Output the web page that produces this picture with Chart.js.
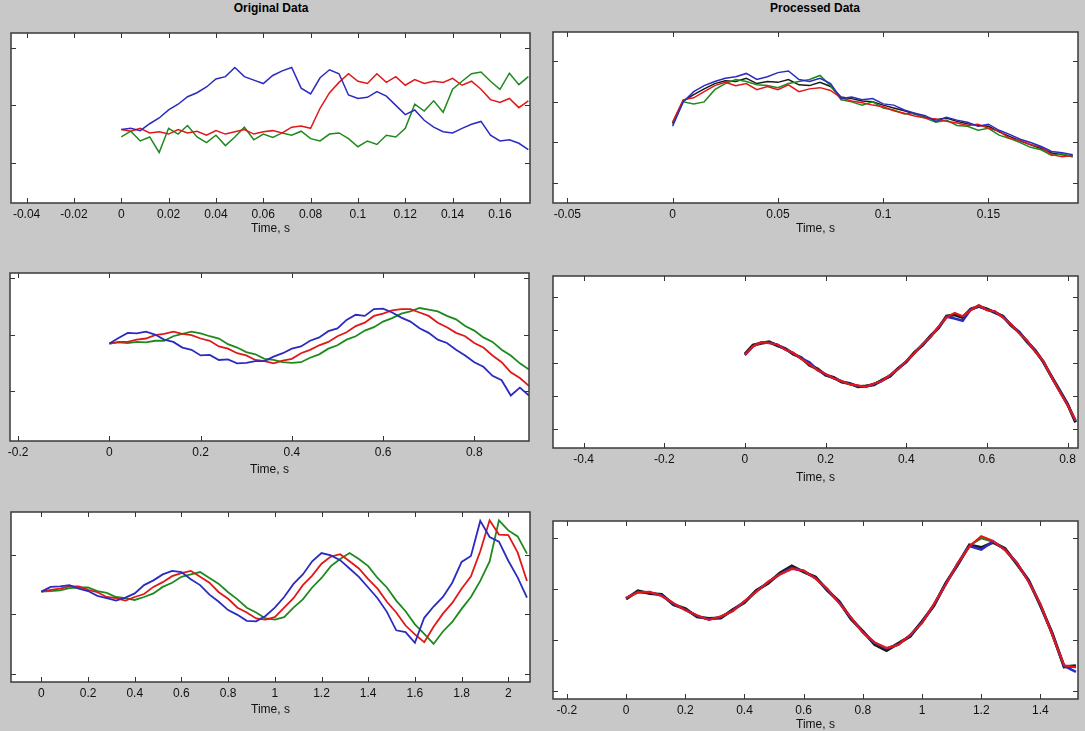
<!DOCTYPE html>
<html>
<head>
<meta charset="utf-8">
<script src="https://cdn.jsdelivr.net/npm/chart.js@4.4.1/dist/chart.umd.min.js"></script>
<style>
  body { margin: 0; width: 1085px; height: 731px; overflow: hidden; position: relative;
         background: #c8c8c8; font-family: "Liberation Sans", Arial, sans-serif; }
  canvas { position: absolute; }
  .head { position: absolute; top: 1px; font-size: 12px; font-weight: bold; color: #000;
          transform: translateX(-50%); white-space: nowrap; }
</style>
</head>
<body>
<div class="head" style="left:271px">Original Data</div>
<div class="head" style="left:815px">Processed Data</div>
<canvas id="c1"></canvas>
<canvas id="c2"></canvas>
<canvas id="c3"></canvas>
<canvas id="c4"></canvas>
<canvas id="c5"></canvas>
<canvas id="c6"></canvas>
<script>
// ---- data (y in units of the y tick spacing) ----

// top row, original
const t1 = [0,0.004,0.008,0.012,0.016,0.02,0.024,0.028,0.032,0.036,0.04,0.044,0.048,0.052,0.056,0.06,0.064,0.068,0.072,0.076,0.08,0.084,0.088,0.092,0.096,0.1,0.104,0.108,0.112,0.116,0.12,0.124,0.128,0.132,0.136,0.14,0.144,0.148,0.152,0.156,0.16,0.164,0.168,0.172];
const p1Blue = [-0.42,-0.40,-0.44,-0.32,-0.22,-0.08,0.02,0.15,0.22,0.32,0.46,0.50,0.66,0.50,0.44,0.38,0.52,0.60,0.66,0.30,0.20,0.48,0.62,0.55,0.18,0.12,0.14,0.24,0.16,0.00,-0.16,-0.08,-0.26,-0.38,-0.46,-0.48,-0.40,-0.33,-0.28,-0.52,-0.62,-0.60,-0.66,-0.77];
const p1Red = [-0.42,-0.45,-0.40,-0.48,-0.46,-0.50,-0.42,-0.48,-0.45,-0.52,-0.44,-0.50,-0.46,-0.42,-0.50,-0.46,-0.44,-0.48,-0.38,-0.36,-0.40,-0.05,0.22,0.40,0.55,0.42,0.38,0.55,0.40,0.50,0.35,0.45,0.38,0.42,0.40,0.47,0.35,0.42,0.28,0.10,0.05,0.12,-0.04,0.08];
const p1Green = [-0.55,-0.45,-0.62,-0.55,-0.82,-0.40,-0.50,-0.35,-0.55,-0.65,-0.52,-0.70,-0.55,-0.38,-0.60,-0.50,-0.56,-0.48,-0.52,-0.45,-0.58,-0.62,-0.50,-0.48,-0.58,-0.72,-0.62,-0.68,-0.52,-0.55,-0.40,0.02,-0.10,0.08,-0.12,0.28,0.42,0.55,0.58,0.42,0.28,0.56,0.36,0.50];

// top row, processed
const t2 = [0,0.005,0.01,0.015,0.02,0.025,0.03,0.035,0.04,0.045,0.05,0.055,0.06,0.065,0.07,0.075,0.08,0.085,0.09,0.095,0.1,0.105,0.11,0.115,0.12,0.125,0.13,0.135,0.14,0.145,0.15,0.155,0.16,0.165,0.17,0.175,0.18,0.185,0.19];
const p2Blue = [0.40,1.00,1.25,1.40,1.50,1.58,1.62,1.70,1.55,1.62,1.72,1.76,1.55,1.50,1.58,1.45,1.08,1.12,1.05,1.08,0.95,0.92,0.80,0.72,0.66,0.52,0.62,0.55,0.50,0.40,0.45,0.30,0.20,0.08,0.00,-0.10,-0.22,-0.25,-0.30];
const p2Green = [0.45,1.00,0.95,1.00,1.30,1.45,1.55,1.50,1.42,1.40,1.35,1.45,1.50,1.55,1.65,1.40,1.05,1.00,0.92,1.00,0.85,0.80,0.70,0.72,0.60,0.50,0.55,0.42,0.40,0.30,0.35,0.18,0.10,0.00,-0.12,-0.18,-0.32,-0.28,-0.36];
const p2Red = [0.50,1.05,1.10,1.25,1.40,1.48,1.40,1.45,1.30,1.38,1.30,1.42,1.25,1.32,1.35,1.28,1.10,1.02,0.98,0.92,0.88,0.78,0.72,0.65,0.60,0.58,0.52,0.48,0.42,0.45,0.35,0.28,0.10,0.05,-0.05,-0.12,-0.30,-0.35,-0.32];
const p2Black = [0.48,1.02,1.18,1.32,1.45,1.52,1.50,1.58,1.45,1.50,1.48,1.55,1.42,1.40,1.48,1.38,1.12,1.08,1.02,1.00,0.92,0.85,0.78,0.70,0.62,0.56,0.60,0.52,0.46,0.42,0.40,0.26,0.15,0.04,-0.06,-0.15,-0.26,-0.30,-0.33];

// middle row, original
const t3 = [0,0.02,0.04,0.06,0.08,0.1,0.12,0.14,0.16,0.18,0.2,0.22,0.24,0.26,0.28,0.3,0.32,0.34,0.36,0.38,0.4,0.42,0.44,0.46,0.48,0.5,0.52,0.54,0.56,0.58,0.6,0.62,0.64,0.66,0.68,0.7,0.72,0.74,0.76,0.78,0.8,0.82,0.84,0.86,0.88,0.9,0.92];
const p3Blue = [-0.16,-0.06,0.03,0.02,0.05,0.00,-0.09,-0.13,-0.23,-0.27,-0.37,-0.36,-0.45,-0.44,-0.51,-0.50,-0.47,-0.47,-0.39,-0.33,-0.25,-0.21,-0.11,-0.05,0.06,0.11,0.26,0.35,0.33,0.45,0.46,0.39,0.30,0.23,0.11,0.03,-0.09,-0.15,-0.27,-0.37,-0.49,-0.57,-0.73,-0.81,-1.08,-0.94,-1.08];
const p3Red = [-0.16,-0.13,-0.13,-0.09,-0.07,-0.01,0.01,0.05,0.01,-0.01,-0.07,-0.11,-0.21,-0.25,-0.33,-0.37,-0.45,-0.47,-0.51,-0.46,-0.43,-0.33,-0.27,-0.19,-0.13,-0.03,0.04,0.15,0.21,0.33,0.37,0.43,0.45,0.45,0.39,0.33,0.21,0.13,0.03,-0.03,-0.15,-0.23,-0.37,-0.49,-0.67,-0.77,-0.91];
const p3Green = [-0.16,-0.14,-0.15,-0.13,-0.14,-0.11,-0.11,-0.03,0.01,0.05,0.02,-0.03,-0.07,-0.17,-0.23,-0.31,-0.35,-0.43,-0.45,-0.49,-0.50,-0.49,-0.41,-0.35,-0.25,-0.19,-0.09,-0.03,0.07,0.13,0.23,0.29,0.37,0.41,0.47,0.44,0.41,0.33,0.27,0.15,0.07,-0.05,-0.13,-0.27,-0.37,-0.51,-0.62];

// middle row, processed
const t4 = [0,0.02,0.04,0.06,0.08,0.1,0.12,0.14,0.16,0.18,0.2,0.22,0.24,0.26,0.28,0.3,0.32,0.34,0.36,0.38,0.4,0.42,0.44,0.46,0.48,0.5,0.52,0.54,0.56,0.58,0.6,0.62,0.64,0.66,0.68,0.7,0.72,0.74,0.76,0.78,0.8,0.82];
const p4Red = [0.25,0.50,0.63,0.60,0.57,0.40,0.31,0.12,-0.04,-0.22,-0.33,-0.47,-0.55,-0.65,-0.68,-0.73,-0.62,-0.55,-0.36,-0.19,0.06,0.28,0.57,0.78,1.10,1.38,1.52,1.42,1.60,1.76,1.60,1.57,1.38,1.18,0.90,0.68,0.34,0.06,-0.42,-0.86,-1.28,-1.74];
const p4Black = [0.27,0.54,0.60,0.64,0.53,0.44,0.27,0.16,-0.07,-0.18,-0.37,-0.44,-0.58,-0.62,-0.72,-0.70,-0.66,-0.52,-0.40,-0.16,0.03,0.32,0.53,0.82,1.06,1.42,1.46,1.38,1.64,1.72,1.64,1.53,1.42,1.14,0.94,0.64,0.38,0.03,-0.40,-0.82,-1.24,-1.80];
const p4Blue = [0.24,0.51,0.62,0.62,0.55,0.42,0.29,0.14,0.02,-0.21,-0.35,-0.46,-0.56,-0.64,-0.70,-0.71,-0.64,-0.54,-0.38,-0.18,0.05,0.30,0.55,0.80,1.08,1.40,1.35,1.28,1.62,1.72,1.62,1.55,1.40,1.16,0.92,0.66,0.36,0.05,-0.41,-0.84,-1.26,-1.76];
const p4Green = [0.25,0.52,0.61,0.63,0.56,0.41,0.30,0.13,-0.05,-0.20,-0.34,-0.46,-0.57,-0.63,-0.71,-0.72,-0.63,-0.53,-0.37,-0.17,0.04,0.31,0.56,0.79,1.09,1.39,1.49,1.40,1.61,1.73,1.61,1.56,1.39,1.17,0.91,0.67,0.35,0.04,-0.43,-0.85,-1.27,-1.75];

// bottom row, original
const t5 = [0,0.04,0.08,0.12,0.16,0.2,0.24,0.28,0.32,0.36,0.4,0.44,0.48,0.52,0.56,0.6,0.64,0.68,0.72,0.76,0.8,0.84,0.88,0.92,0.96,1,1.04,1.08,1.12,1.16,1.2,1.24,1.28,1.32,1.36,1.4,1.44,1.48,1.52,1.56,1.6,1.64,1.68,1.72,1.76,1.8,1.84,1.88,1.92,1.96,2,2.04,2.08];
const p5Blue = [0.38,0.46,0.47,0.49,0.43,0.39,0.31,0.27,0.23,0.28,0.35,0.49,0.57,0.67,0.73,0.71,0.59,0.49,0.33,0.21,0.07,-0.01,-0.11,-0.12,-0.03,0.11,0.29,0.51,0.67,0.89,1.03,0.99,0.91,0.77,0.63,0.45,0.27,0.04,-0.27,-0.30,-0.48,-0.06,0.13,0.29,0.53,0.88,0.98,1.57,1.30,1.22,0.90,0.62,0.28];
const p5Red = [0.38,0.41,0.43,0.47,0.47,0.41,0.37,0.29,0.27,0.23,0.29,0.34,0.46,0.54,0.64,0.69,0.73,0.63,0.53,0.37,0.26,0.11,0.03,-0.07,-0.09,-0.05,0.11,0.27,0.49,0.65,0.85,0.97,1.01,0.89,0.77,0.59,0.43,0.21,0.03,-0.19,-0.34,-0.47,-0.21,0.01,0.19,0.43,0.64,1.06,1.58,1.34,1.33,1.04,0.56];
const p5Green = [0.38,0.39,0.40,0.44,0.45,0.45,0.39,0.36,0.29,0.27,0.24,0.29,0.35,0.46,0.53,0.63,0.67,0.71,0.61,0.51,0.37,0.25,0.11,0.03,-0.07,-0.09,-0.05,0.11,0.25,0.45,0.61,0.81,0.93,1.03,0.93,0.81,0.61,0.45,0.23,0.05,-0.17,-0.33,-0.50,-0.29,-0.13,0.09,0.29,0.56,0.89,1.58,1.41,1.31,1.02];

// bottom row, processed
const t6 = [0,0.04,0.08,0.12,0.16,0.2,0.24,0.28,0.32,0.36,0.4,0.44,0.48,0.52,0.56,0.6,0.64,0.68,0.72,0.76,0.8,0.84,0.88,0.92,0.96,1,1.04,1.08,1.12,1.16,1.2,1.24,1.28,1.32,1.36,1.4,1.44,1.48,1.52];
const p6Red = [0.83,0.94,0.95,0.87,0.73,0.59,0.49,0.40,0.47,0.57,0.77,0.95,1.15,1.29,1.40,1.37,1.21,1.01,0.73,0.45,0.15,-0.04,-0.15,-0.09,0.11,0.34,0.71,1.09,1.51,1.84,2.04,1.95,1.77,1.53,1.15,0.71,0.11,-0.49,-0.53];
const p6Black = [0.81,0.97,0.92,0.90,0.70,0.62,0.46,0.43,0.44,0.60,0.74,0.98,1.12,1.32,1.46,1.34,1.24,0.98,0.76,0.42,0.18,-0.08,-0.20,-0.06,0.08,0.37,0.68,1.12,1.48,1.87,1.82,1.92,1.80,1.50,1.18,0.68,0.14,-0.52,-0.50];
const p6Blue = [0.83,0.95,0.94,0.88,0.72,0.60,0.48,0.41,0.46,0.58,0.76,0.96,1.14,1.30,1.42,1.36,1.22,1.00,0.74,0.44,0.16,-0.05,-0.16,-0.08,0.10,0.35,0.70,1.10,1.50,1.85,1.78,1.94,1.78,1.52,1.16,0.70,0.12,-0.50,-0.62];
const p6Green = [0.82,0.95,0.93,0.89,0.71,0.61,0.47,0.42,0.45,0.59,0.75,0.97,1.13,1.31,1.43,1.35,1.23,0.99,0.75,0.43,0.17,-0.06,-0.17,-0.07,0.09,0.36,0.69,1.11,1.49,1.86,2.00,1.93,1.79,1.51,1.17,0.69,0.13,-0.51,-0.52];

const BLUE = '#2b2bc0', RED = '#e01818', GREEN = '#1e8a1e', BLACK = '#1a1a1a';

// box = [left, top, right, bottom] of the plot area on the page, axh = height of the x axis strip
const panels = [
  { id: 'c1', box: [11, 33, 530, 203], axh: 33, t: t1, x: [-0.0466, 0.1727, 0.02], y: [-1.70, 1.26],
    lines: [[p1Blue, BLUE, 1.5], [p1Red, RED, 1.5], [p1Green, GREEN, 1.5]] },
  { id: 'c2', box: [553, 32, 1078, 203], axh: 33, t: t2, x: [-0.0568, 0.1925, 0.05], y: [-1.49, 2.72],
    lines: [[p2Blue, BLUE, 1.5], [p2Red, RED, 1.5], [p2Green, GREEN, 1.5], [p2Black, BLACK, 1.5]] },
  { id: 'c3', box: [10, 273, 529, 441], axh: 36, t: t3, x: [-0.218, 0.92, 0.2], y: [-1.885, 1.09],
    lines: [[p3Blue, BLUE, 1.8], [p3Red, RED, 1.8], [p3Green, GREEN, 1.8]] },
  { id: 'c4', box: [553, 276, 1078, 448], axh: 37, t: t4, x: [-0.476, 0.826, 0.2], y: [-2.58, 2.64],
    lines: [[p4Red, RED, 2.2], [p4Blue, BLUE, 2.5], [p4Black, BLACK, 3], [p4Green, GREEN, 2]] },
  { id: 'c5', box: [11, 512, 530, 682], axh: 35, t: t5, x: [-0.13, 2.093, 0.2], y: [-1.14, 1.72],
    lines: [[p5Blue, BLUE, 1.8], [p5Red, RED, 1.8], [p5Green, GREEN, 1.8]] },
  { id: 'c6', box: [553, 521, 1078, 699], axh: 33, t: t6, x: [-0.247, 1.527, 0.2], y: [-1.15, 2.34],
    lines: [[p6Red, RED, 2.2], [p6Blue, BLUE, 2.5], [p6Black, BLACK, 3], [p6Green, GREEN, 2]] }
];

// white axes background, then matlab style box with inward ticks on all four sides
const frame = {
  id: 'frame',
  beforeDraw(chart) {
    const { ctx, chartArea: a } = chart;
    ctx.save();
    ctx.fillStyle = '#fff';
    ctx.fillRect(a.left, a.top, a.right - a.left, a.bottom - a.top);
    ctx.restore();
  },
  afterDraw(chart) {
    const { ctx, chartArea: a, scales: { x, y } } = chart;
    ctx.save();
    ctx.strokeStyle = '#333';
    ctx.lineWidth = 1;
    ctx.beginPath();
    x.ticks.forEach(tk => {
      const px = Math.round(x.getPixelForValue(tk.value)) + 0.5;
      ctx.moveTo(px, a.bottom); ctx.lineTo(px, a.bottom - 5);
      ctx.moveTo(px, a.top); ctx.lineTo(px, a.top + 5);
    });
    y.ticks.forEach(tk => {
      const py = Math.round(y.getPixelForValue(tk.value)) + 0.5;
      ctx.moveTo(a.left, py); ctx.lineTo(a.left + 5, py);
      ctx.moveTo(a.right, py); ctx.lineTo(a.right - 5, py);
    });
    ctx.stroke();
    ctx.lineWidth = 1.5;
    ctx.strokeStyle = '#3a3a3a';
    ctx.strokeRect(a.left, a.top, a.right - a.left, a.bottom - a.top);
    ctx.restore();
  }
};

const PAD = 30, TOP = 6;
const font = { family: '"Liberation Sans", Arial, sans-serif', size: 12 };

panels.forEach(p => {
  const [l, t, r, b] = p.box;
  const cv = document.getElementById(p.id);
  cv.width = (r - l) + 2 * PAD;
  cv.height = (b - t) + TOP + p.axh;
  cv.style.left = (l - PAD) + 'px';
  cv.style.top = (t - TOP) + 'px';

  new Chart(cv.getContext('2d'), {
    type: 'line',
    data: {
      datasets: p.lines.map(([ys, col, w]) => ({
        data: p.t.map((tv, i) => ({ x: tv, y: ys[i] })),
        borderColor: col,
        borderWidth: w,
        pointRadius: 0,
        tension: 0,
        fill: false
      }))
    },
    options: {
      responsive: false,
      animation: false,
      events: [],
      layout: { padding: { left: PAD, right: PAD, top: TOP, bottom: 0 } },
      plugins: { legend: { display: false }, tooltip: { enabled: false } },
      scales: {
        x: {
          type: 'linear',
          min: p.x[0], max: p.x[1],
          grid: { display: false, drawTicks: false },
          border: { display: false },
          ticks: {
            stepSize: p.x[2], includeBounds: false, autoSkip: false, maxRotation: 0,
            padding: 4, color: '#111', font: font,
            callback: v => String(+v.toFixed(6))
          },
          title: { display: true, text: 'Time, s', color: '#111', font: font, padding: 0 },
          afterFit: s => { s.height = p.axh; }
        },
        y: {
          type: 'linear',
          min: p.y[0], max: p.y[1],
          grid: { display: false, drawTicks: false },
          border: { display: false },
          ticks: { display: false, stepSize: 1, includeBounds: false }
        }
      }
    },
    plugins: [frame]
  });
});
</script>
</body>
</html>
